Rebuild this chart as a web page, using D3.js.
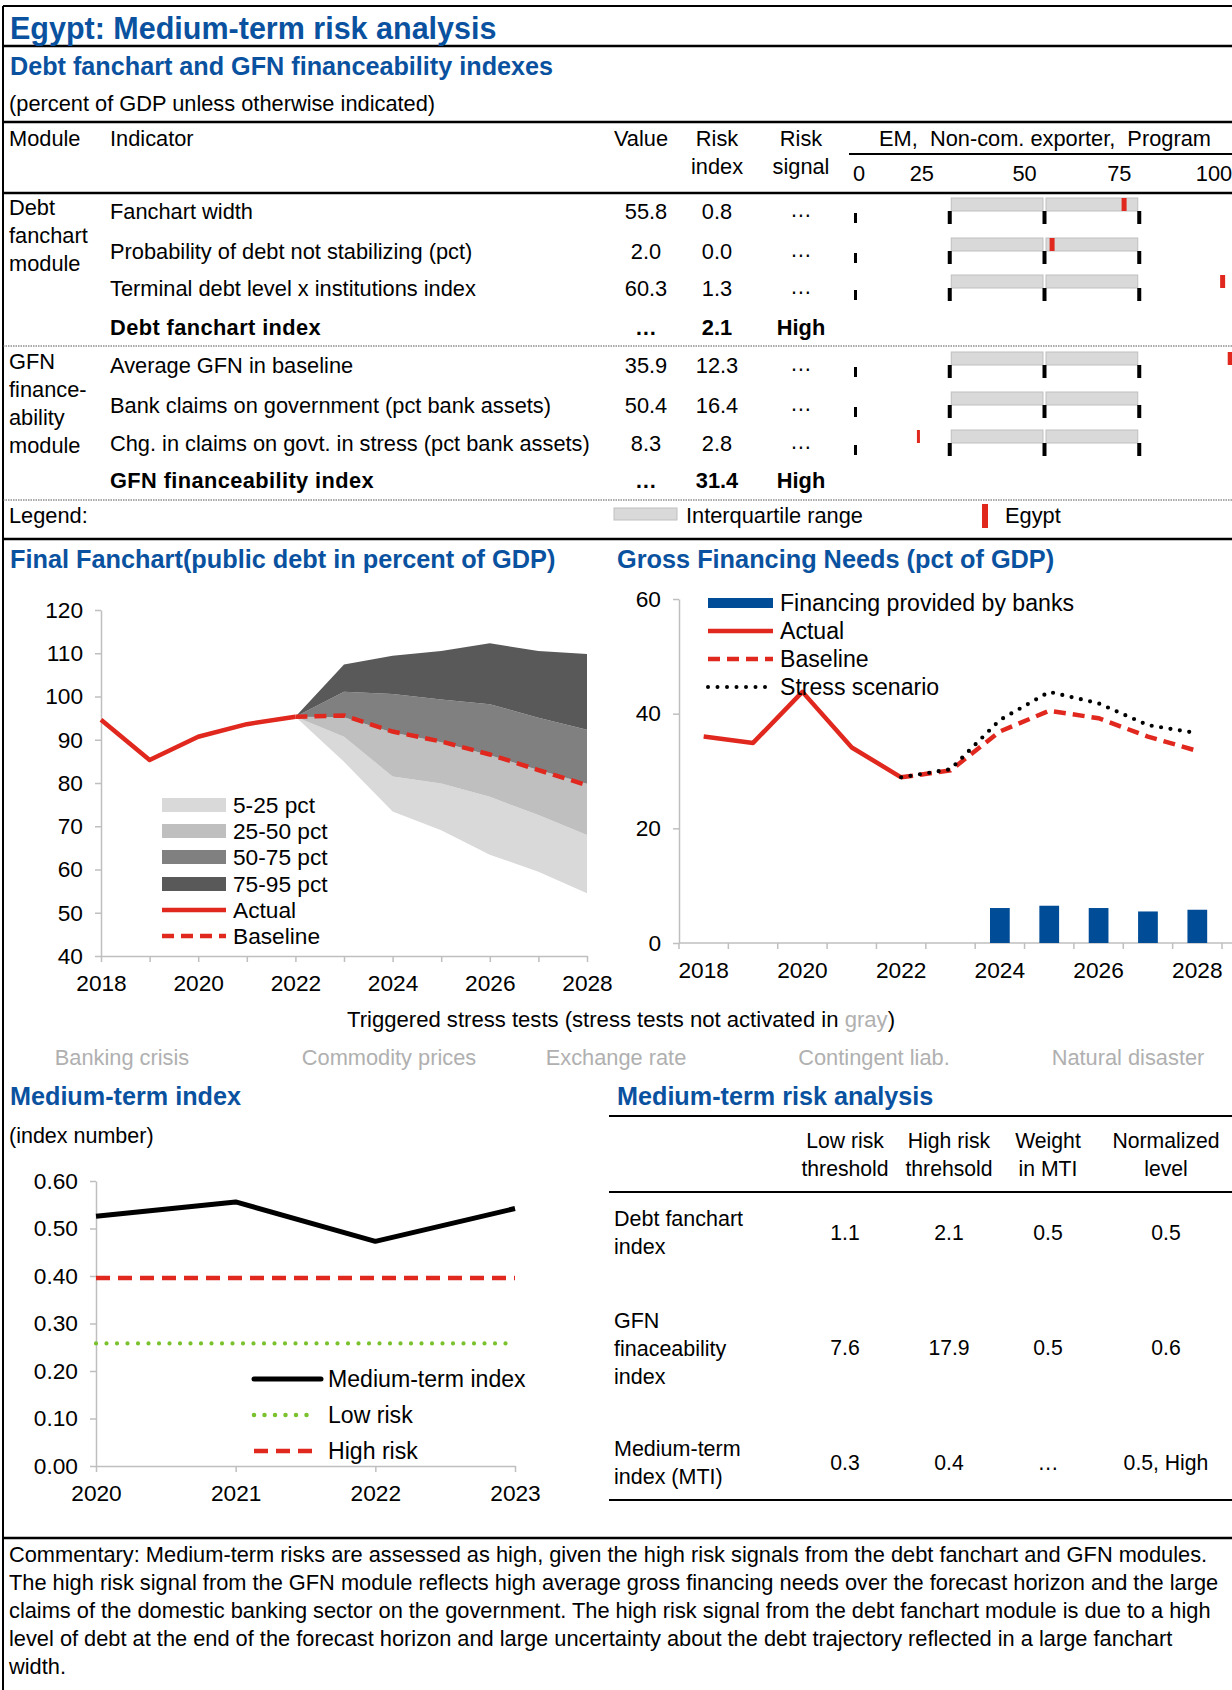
<!DOCTYPE html>
<html><head><meta charset="utf-8">
<script src="https://cdn.jsdelivr.net/npm/d3@7"></script>
<style>
body{margin:0;background:#fff}
svg{display:block}
text{font-family:"Liberation Sans",Arial,Helvetica,sans-serif}
</style></head>
<body><svg id="c" width="1232" height="1690"></svg>
<script>
// ---------------- DATA ----------------
const moduleLabels = [["Debt","fanchart","module"],["GFN","finance-","ability","module"]];
const indicatorNames = ["Fanchart width","Probability of debt not stabilizing (pct)","Terminal debt level x institutions index",
  "Average GFN in baseline","Bank claims on government (pct bank assets)","Chg. in claims on govt. in stress (pct bank assets)"];
const indicatorValues = ["55.8","2.0","60.3","35.9","50.4","8.3"];
const indicatorRisk = ["0.8","0.0","1.3","12.3","16.4","2.8"];
const indicatorSignal = ["…","…","…","…","…","…"];
const egyptPercentile = [71, 52, 97, 99, 101, 17];
const peerTicks = [25, 50, 75];
const peerMin = 0;
const scaleTickLabels = [0, 25, 50, 75, 100];
const indexNames = ["Debt fanchart index","GFN financeability index"];
const indexValues = ["…","…"];
const indexRisk = ["2.1","31.4"];
const indexSignal = ["High","High"];

const fanYearsActual = [2018, 2019, 2020, 2021, 2022];
const debtActual = [94.6, 85.3, 90.7, 93.6, 95.3];
const fanYears = [2022, 2023, 2024, 2025, 2026, 2027, 2028];
const debtBaseline = [95.3, 95.6, 91.9, 89.6, 86.6, 83.0, 79.5];
const fanP5  = [95.3, 84.9, 73.4, 69.1, 63.4, 59.5, 54.5];
const fanP25 = [95.3, 90.7, 81.5, 79.9, 76.8, 72.6, 68.0];
const fanP50 = [95.3, 95.2, 91.7, 89.4, 86.4, 83.0, 79.8];
const fanP75 = [95.3, 101.1, 100.6, 99.3, 98.2, 95.1, 92.3];
const fanP95 = [95.3, 107.4, 109.4, 110.5, 112.3, 110.5, 109.8];
const fanLegend = ["5-25 pct","25-50 pct","50-75 pct","75-95 pct","Actual","Baseline"];
const fanTicksY = [40, 50, 60, 70, 80, 90, 100, 110, 120];

const gfnYears = [2018, 2019, 2020, 2021, 2022, 2023, 2024, 2025, 2026, 2027, 2028];
const gfnActualYears = [2018, 2019, 2020, 2021, 2022];
const gfnActual = [36.0, 34.9, 43.8, 34.1, 28.9];
const gfnProjYears = [2022, 2023, 2024, 2025, 2026, 2027, 2028];
const gfnBaseline = [28.9, 30.1, 36.9, 40.5, 39.2, 36.0, 33.5];
const gfnStress = [28.9, 30.3, 38.9, 43.8, 41.8, 38.0, 36.6];
const bankYears = [2024, 2025, 2026, 2027, 2028];
const bankFinancing = [6.1, 6.5, 6.1, 5.5, 5.8];
const gfnLegend = ["Financing provided by banks","Actual","Baseline","Stress scenario"];
const gfnTicksY = [0, 20, 40, 60];

const stressTests = ["Banking crisis","Commodity prices","Exchange rate","Contingent liab.","Natural disaster"];

const mtiYears = [2020, 2021, 2022, 2023];
const mtiValues = [0.526, 0.556, 0.473, 0.542];
const lowRisk = [0.258, 0.258, 0.258, 0.258];
const highRisk = [0.396, 0.396, 0.396, 0.396];
const mtiLegend = ["Medium-term index","Low risk","High risk"];
const mtiTicksY = [0, 0.1, 0.2, 0.3, 0.4, 0.5, 0.6];

const mraHeaders = [["Low risk","threshold"],["High risk","threhsold"],["Weight","in MTI"],["Normalized","level"]];
const mraRowLabels = [["Debt fanchart","index"],["GFN","finaceability","index"],["Medium-term","index (MTI)"]];
const mraLow = ["1.1","7.6","0.3"];
const mraHigh = ["2.1","17.9","0.4"];
const mraWeight = ["0.5","0.5","…"];
const mraNormalized = ["0.5","0.6","0.5, High"];

const commentary = [
 "Commentary: Medium-term risks are assessed as high, given the high risk signals from the debt fanchart and GFN modules.",
 "The high risk signal from the GFN module reflects high average gross financing needs over the forecast horizon and the large",
 "claims of the domestic banking sector on the government. The high risk signal from the debt fanchart module is due to a high",
 "level of debt at the end of the forecast horizon and large uncertainty about the debt trajectory reflected in a large fanchart",
 "width."];

// ---------------- STYLE ----------------
const W = 1232;
const FS = 21.8;      // table / body text
const FC = 22.7;      // chart text
const BLUE_T = "#0a52a0";
const BLUE_BAR = "#004c97";
const RED = "#e0281e";
const GREEN = "#7ac12e";
const GRAYTXT = "#b0b0b0";
const AXIS = "#bfbfbf";
const FAN_COLORS = ["#d9d9d9","#bfbfbf","#808080","#595959"];

const svg = d3.select("#c");
function txt(g, x, y, s, o = {}) {
  return g.append("text").attr("x", x).attr("y", y).text(s)
    .attr("font-size", o.size || FS)
    .attr("fill", o.fill || "#000")
    .attr("text-anchor", o.anchor || "start")
    .attr("font-weight", o.bold ? "bold" : null);
}
function hline(y, x1, x2, w = 2, dash = null, col = "#000") {
  svg.append("line").attr("x1", x1).attr("x2", x2).attr("y1", y).attr("y2", y)
    .attr("stroke", col).attr("stroke-width", w).attr("stroke-dasharray", dash);
}

// frame
svg.append("line").attr("x1", 3).attr("x2", 3).attr("y1", 6).attr("y2", 1690).attr("stroke", "#000").attr("stroke-width", 2);
hline(6, 3, W, 2);
hline(46, 3, W, 2.5);
hline(122, 3, W, 2.5);
hline(193, 3, W, 2.5);
hline(346, 3, W, 1.2, "1.5,1", "#555");
hline(500, 3, W, 1.2, "1.5,1", "#555");
hline(539, 3, W, 2.5);
hline(1538, 3, W, 2.5);

// titles
txt(svg, 10, 39, "Egypt: Medium-term risk analysis", {size: 30.5, bold: true, fill: BLUE_T});
txt(svg, 10, 75, "Debt fanchart and GFN financeability indexes", {size: 25.2, bold: true, fill: BLUE_T});
txt(svg, 9, 111, "(percent of GDP unless otherwise indicated)");

// ---------------- TABLE ----------------
const T = svg.append("g");
txt(T, 9, 146, "Module");
txt(T, 110, 146, "Indicator");
txt(T, 641, 146, "Value", {anchor: "middle"});
txt(T, 717, 146, "Risk", {anchor: "middle"});
txt(T, 717, 174, "index", {anchor: "middle"});
txt(T, 801, 146, "Risk", {anchor: "middle"});
txt(T, 801, 174, "signal", {anchor: "middle"});
txt(T, 1045, 146, "EM,  Non-com. exporter,  Program", {anchor: "middle"}).style("white-space", "pre");
hline(154, 849, W, 2);

const bx = d3.scaleLinear().domain([0, 100]).range([855, 1234]);
scaleTickLabels.forEach(v => {
  const off = v === 0 ? 4 : v === 25 ? -28 : -20;
  txt(T, bx(v) + off, 181, v, {anchor: "middle"});
});

const indRowY = [219, 259, 296, 373, 413, 451];
const idxRowY = [335, 488];
const modTop = [215, 369];

moduleLabels.forEach((lines, m) => lines.forEach((l, i) => txt(T, 9, modTop[m] + i * 28, l)));

indicatorNames.forEach((name, i) => {
  const y = indRowY[i];
  txt(T, 110, y, name);
  txt(T, 646, y, indicatorValues[i], {anchor: "middle"});
  txt(T, 717, y, indicatorRisk[i], {anchor: "middle"});
  txt(T, 801, y - 2, indicatorSignal[i], {anchor: "middle"});
  const top = y - 21, h = 13;
  [[peerTicks[0], peerTicks[1]], [peerTicks[1], peerTicks[2]]].forEach(([a, b]) => {
    T.append("rect").attr("x", bx(a) + 1.5).attr("y", top).attr("width", bx(b) - bx(a) - 3).attr("height", h)
      .attr("fill", "#d9d9d9").attr("stroke", "#bfbfbf").attr("stroke-width", 1);
  });
  T.append("rect").attr("x", bx(peerMin) - 1).attr("y", y - 6).attr("width", 3).attr("height", 10).attr("fill", "#000");
  peerTicks.forEach(v => T.append("rect").attr("x", bx(v) - 2).attr("y", y - 8).attr("width", 4).attr("height", 13).attr("fill", "#000"));
  T.append("rect").attr("x", bx(egyptPercentile[i]) - 2.5).attr("y", top).attr("width", i === 5 ? 3 : 5).attr("height", h).attr("fill", RED);
});
indexNames.forEach((name, i) => {
  const y = idxRowY[i];
  txt(T, 110, y, name, {bold: true}).attr("letter-spacing", 0.4);
  txt(T, 646, y, indexValues[i], {anchor: "middle", bold: true});
  txt(T, 717, y, indexRisk[i], {anchor: "middle", bold: true});
  txt(T, 801, y, indexSignal[i], {anchor: "middle", bold: true});
});
txt(T, 9, 523, "Legend:");
T.append("rect").attr("x", 614).attr("y", 508).attr("width", 63).attr("height", 12).attr("fill", "#d9d9d9").attr("stroke", "#bfbfbf");
txt(T, 686, 523, "Interquartile range");
T.append("rect").attr("x", 982).attr("y", 504).attr("width", 6).attr("height", 24).attr("fill", RED);
txt(T, 1005, 523, "Egypt");

// ---------------- FANCHART ----------------
const F = svg.append("g");
txt(F, 10, 568, "Final Fanchart(public debt in percent of GDP)", {size: 25.3, bold: true, fill: BLUE_T});
const fx = d3.scaleLinear().domain([2018, 2028]).range([101, 587]);
const fy = d3.scaleLinear().domain([40, 120]).range([956, 610]);
const bands = [[fanP5, fanP25], [fanP25, fanP50], [fanP50, fanP75], [fanP75, fanP95]];
bands.forEach(([lo, hi], k) => {
  const area = d3.area().x((d, i) => fx(fanYears[i])).y0((d, i) => fy(lo[i])).y1((d, i) => fy(hi[i]));
  F.append("path").datum(lo).attr("d", area).attr("fill", FAN_COLORS[k]);
});
function styleAxis(g) {
  g.selectAll("path.domain").attr("stroke", AXIS).attr("stroke-width", 1.5);
  g.selectAll(".tick line").attr("stroke", AXIS).attr("stroke-width", 1.5);
  g.selectAll("text").attr("font-size", FC).attr("fill", "#000").attr("font-family", '"Liberation Sans",Arial,sans-serif');
}
F.append("g").attr("transform", `translate(${fx(2018)},0)`)
  .call(d3.axisLeft(fy).tickValues(fanTicksY).tickSize(6).tickSizeOuter(0).tickPadding(12)).call(styleAxis);
F.append("g").attr("transform", `translate(0,${fy(40)})`)
  .call(d3.axisBottom(fx).tickValues(d3.range(2018, 2029)).tickFormat(d => d % 2 === 0 ? d : "").tickSize(6).tickSizeOuter(0).tickPadding(13)).call(styleAxis);
const fline = d3.line().x(d => fx(d[0])).y(d => fy(d[1]));
F.append("path").datum(fanYearsActual.map((y, i) => [y, debtActual[i]])).attr("d", fline)
  .attr("fill", "none").attr("stroke", RED).attr("stroke-width", 4.5).attr("stroke-linejoin", "round");
F.append("path").datum(fanYears.map((y, i) => [y, debtBaseline[i]])).attr("d", fline)
  .attr("fill", "none").attr("stroke", RED).attr("stroke-width", 4.5).attr("stroke-dasharray", "12,7");
const fLegY = [805, 831, 857, 884, 910, 936];
fanLegend.forEach((l, i) => {
  const y = fLegY[i];
  if (i < 4) F.append("rect").attr("x", 162).attr("y", y - 7).attr("width", 64).attr("height", 14).attr("fill", FAN_COLORS[i]);
  else F.append("line").attr("x1", 162).attr("x2", 226).attr("y1", y).attr("y2", y).attr("stroke", RED).attr("stroke-width", 4.5)
    .attr("stroke-dasharray", i === 5 ? "12,7" : null);
  txt(F, 233, y + 8, l, {size: FC});
});

// ---------------- GFN ----------------
const G = svg.append("g");
txt(G, 617, 568, "Gross Financing Needs (pct of GDP)", {size: 25.3, bold: true, fill: BLUE_T});
const gx = d3.scaleBand().domain(gfnYears).range([679, 1222]);
const gy = d3.scaleLinear().domain([0, 60]).range([943, 599]);
const gc = d => gx(d) + gx.bandwidth() / 2;
G.append("g").attr("transform", `translate(${gx.range()[0]},0)`)
  .call(d3.axisLeft(gy).tickValues(gfnTicksY).tickSize(6).tickSizeOuter(0).tickPadding(12)).call(styleAxis);
G.append("line").attr("x1", 679).attr("x2", W).attr("y1", gy(0)).attr("y2", gy(0)).attr("stroke", AXIS).attr("stroke-width", 1.5);
gfnYears.concat([null]).forEach(y => {
  const x = y === null ? gx.range()[1] : gx(y);
  G.append("line").attr("x1", x).attr("x2", x).attr("y1", gy(0)).attr("y2", gy(0) + 6).attr("stroke", AXIS).attr("stroke-width", 1.5);
});
gfnYears.filter(y => y % 2 === 0).forEach(y => txt(G, gc(y), gy(0) + 35, y, {size: FC, anchor: "middle"}));
G.selectAll("rect.bar").data(bankYears).enter().append("rect")
  .attr("x", d => gx(d) + gx.bandwidth() * 0.3).attr("width", gx.bandwidth() * 0.4)
  .attr("y", (d, i) => gy(bankFinancing[i])).attr("height", (d, i) => gy(0) - gy(bankFinancing[i]))
  .attr("fill", BLUE_BAR);
const gline = d3.line().x(d => gc(d[0])).y(d => gy(d[1]));
G.append("path").datum(gfnActualYears.map((y, i) => [y, gfnActual[i]])).attr("d", gline)
  .attr("fill", "none").attr("stroke", RED).attr("stroke-width", 4.5).attr("stroke-linejoin", "round");
G.append("path").datum(gfnProjYears.map((y, i) => [y, gfnBaseline[i]])).attr("d", gline)
  .attr("fill", "none").attr("stroke", RED).attr("stroke-width", 4.5).attr("stroke-dasharray", "12,7");
G.append("path").datum(gfnProjYears.map((y, i) => [y, gfnStress[i]])).attr("d", gline)
  .attr("fill", "none").attr("stroke", "#000").attr("stroke-width", 4.2).attr("stroke-linecap", "round").attr("stroke-dasharray", "0,9.5");
const gLegY = [603, 631, 659, 687];
gfnLegend.forEach((l, i) => {
  const y = gLegY[i];
  if (i === 0) G.append("rect").attr("x", 708).attr("y", y - 5).attr("width", 65).attr("height", 10).attr("fill", BLUE_BAR);
  else G.append("line").attr("x1", 708).attr("x2", 773).attr("y1", y).attr("y2", y)
    .attr("stroke", i === 3 ? "#000" : RED).attr("stroke-width", i === 3 ? 4 : 4.5)
    .attr("stroke-linecap", i === 3 ? "round" : "butt")
    .attr("stroke-dasharray", i === 2 ? "12,7" : i === 3 ? "0,9.5" : null);
  txt(G, 780, y + 8, l, {size: 23.1});
});

// ---------------- STRESS TESTS ----------------
const S = svg.append("g");
const st = txt(S, 621, 1027, "Triggered stress tests (stress tests not activated in ", {anchor: "middle", size: 22.1});
st.append("tspan").attr("fill", GRAYTXT).text("gray");
st.append("tspan").text(")");
const stX = d3.scaleOrdinal().domain(stressTests).range([122, 389, 616, 874, 1128]);
stressTests.forEach(s => txt(S, stX(s), 1065, s, {anchor: "middle", fill: GRAYTXT, size: 21.8}));

// ---------------- MTI ----------------
const M = svg.append("g");
txt(M, 10, 1105, "Medium-term index", {size: 25.2, bold: true, fill: BLUE_T});
txt(M, 9, 1143, "(index number)", {size: 21.5});
const mx = d3.scalePoint().domain(mtiYears).range([96, 515]);
const my = d3.scaleLinear().domain([0, 0.6]).range([1466, 1181]);
M.append("g").attr("transform", `translate(${mx(2020)},0)`)
  .call(d3.axisLeft(my).tickValues(mtiTicksY).tickFormat(d3.format(".2f")).tickSize(6).tickSizeOuter(0).tickPadding(12)).call(styleAxis);
M.append("g").attr("transform", `translate(0,${my(0)})`)
  .call(d3.axisBottom(mx).tickSize(6).tickSizeOuter(0).tickPadding(13)).call(styleAxis);
const mline = d3.line().x(d => mx(d[0])).y(d => my(d[1]));
M.append("path").datum(mtiYears.map((y, i) => [y, highRisk[i]])).attr("d", mline)
  .attr("fill", "none").attr("stroke", RED).attr("stroke-width", 4.5).attr("stroke-dasharray", "14,8");
M.append("path").datum(mtiYears.map((y, i) => [y, lowRisk[i]])).attr("d", mline)
  .attr("fill", "none").attr("stroke", GREEN).attr("stroke-width", 4.2).attr("stroke-linecap", "round").attr("stroke-dasharray", "0,10.5");
M.append("path").datum(mtiYears.map((y, i) => [y, mtiValues[i]])).attr("d", mline)
  .attr("fill", "none").attr("stroke", "#000").attr("stroke-width", 5).attr("stroke-linejoin", "round");
const mLegY = [1379, 1415, 1451];
mtiLegend.forEach((l, i) => {
  const y = mLegY[i];
  M.append("line").attr("x1", 254).attr("x2", i === 0 ? 321 : 315).attr("y1", y).attr("y2", y)
    .attr("stroke", i === 0 ? "#000" : i === 1 ? GREEN : RED).attr("stroke-width", i === 0 ? 5 : 4.5)
    .attr("stroke-linecap", i === 2 ? "butt" : "round")
    .attr("stroke-dasharray", i === 1 ? "0,10.5" : i === 2 ? "14,8" : null);
  txt(M, 328, y + 8, l, {size: 23.1});
});

// ---------------- MEDIUM-TERM RISK ANALYSIS TABLE ----------------
const R = svg.append("g");
txt(R, 617, 1105, "Medium-term risk analysis", {size: 25.2, bold: true, fill: BLUE_T});
hline(1116, 609, W, 2);
hline(1192, 609, W, 2);
hline(1500, 609, W, 2);
const colX = [845, 949, 1048, 1166];
mraHeaders.forEach((h, c) => h.forEach((l, k) => txt(R, colX[c], 1148 + k * 28, l, {anchor: "middle", size: 21.2})));
const rowTop = [1226, 1328, 1456];
const rowVal = [1240, 1355, 1470];
mraRowLabels.forEach((lines, r) => {
  lines.forEach((l, k) => txt(R, 614, rowTop[r] + k * 28, l, {size: 21.5}));
  [mraLow, mraHigh, mraWeight, mraNormalized].forEach((col, c) => txt(R, colX[c], rowVal[r], col[r], {anchor: "middle", size: 21.2}));
});

// ---------------- COMMENTARY ----------------
commentary.forEach((l, i) => txt(svg, 9, 1562 + i * 28, l, {size: 21.8}));
</script>
</body></html>
